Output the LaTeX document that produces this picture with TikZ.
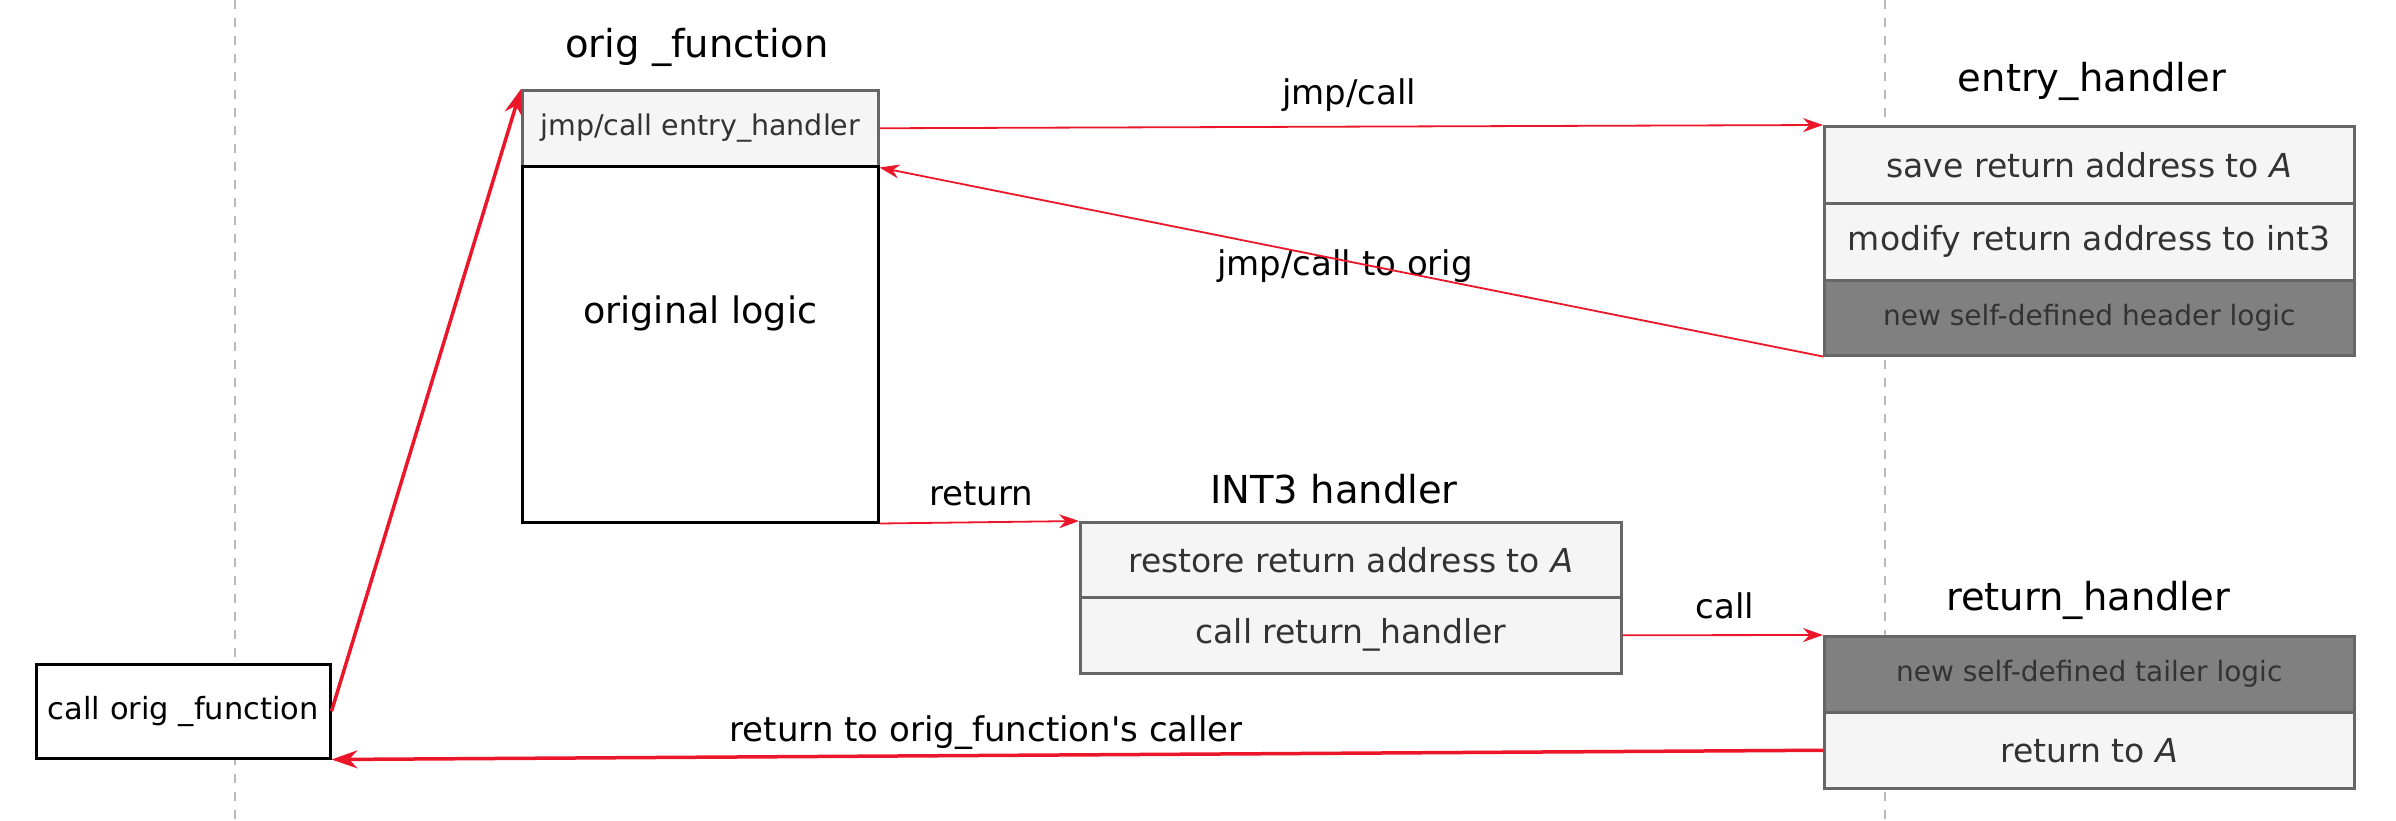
\documentclass[tikz,border=0pt]{standalone}
\usepackage{fontspec}
\setmainfont{DejaVu Sans}
\usepackage{tikz}
\usetikzlibrary{arrows.meta,positioning}
\definecolor{linkred}{RGB}{236,22,42}
\definecolor{cellgray}{RGB}{245,245,245}
\definecolor{darkcell}{RGB}{128,128,128}
\definecolor{cellline}{RGB}{102,102,102}
\definecolor{celltext}{RGB}{51,51,51}

\begin{document}
\begin{tikzpicture}[
x=1pt, y=-1pt,
cell/.style={draw=cellline, line width=2.5pt, fill=cellgray, text=celltext, anchor=north west, inner sep=0pt, align=center, font=\fontsize{33}{38}\selectfont},
darkbox/.style={cell, fill=darkcell, font=\fontsize{28}{32}\selectfont},
plain/.style={draw=black, line width=2.5pt, fill=white, anchor=north west, inner sep=0pt, align=center},
title/.style={font=\fontsize{38.5}{44}\selectfont},
lbl/.style={font=\fontsize{34}{38}\selectfont},
arrow/.style={-{Stealth[length=20pt,width=14pt]}, linkred, line width=1.8pt},
bigarrow/.style={-{Stealth[length=26pt,width=18pt]}, linkred, line width=3.5pt},
guide/.style={draw=gray!55, line width=1.5pt, dash pattern=on 9pt off 9pt}
]
\useasboundingbox (0,0) rectangle (2396,820);
\draw[guide] (235,0) -- (235,820);
\draw[guide] (1885,0) -- (1885,820);

\node[plain, minimum width=294pt, minimum height=94pt, font=\fontsize{30.5}{34}\selectfont] (caller) at (35,663) {call orig \_function};

\node[title] (origt) at (697,47) {orig \_function};
\node[cell, minimum width=356pt, minimum height=76pt, font=\fontsize{28.5}{32}\selectfont] (hdr) at (521,89) {jmp/call entry\_handler};
\node[plain, minimum width=356pt, minimum height=356pt, font=\fontsize{36.5}{40}\selectfont, text height=27pt, text depth=69pt] (logic) at (521,165) {original logic};

\node[title] (entryt) at (2092,81) {entry\_handler};
\node[cell, minimum width=530pt, minimum height=77pt] (save) at (1823,125) {save return address to \textit{A}};
\node[cell, minimum width=530pt, minimum height=77pt] (modify) at (1823,202) {modify return address to int3};
\node[darkbox, minimum width=530pt, minimum height=75pt] (headlogic) at (1823,279) {new self-defined header logic};

\node[title] (int3t) at (1334,489) {INT3 handler};
\node[cell, minimum width=541pt, minimum height=75pt] (restore) at (1079,521) {restore return address to \textit{A}};
\node[cell, minimum width=541pt, minimum height=76pt] (callret) at (1079,596) {call return\_handler};

\node[title] (rett) at (2088,600) {return\_handler};
\node[darkbox, minimum width=530pt, minimum height=76pt] (taillogic) at (1823,635) {new self-defined tailer logic};
\node[cell, minimum width=530pt, minimum height=76pt] (retA) at (1823,711) {return to \textit{A}};

\node[lbl] (ljmp) at (1349,95) {jmp/call};
\node[lbl] (lorig) at (1345,266) {jmp/call to orig};
\node[lbl] (lret) at (981,494) {return};
\node[lbl] (lcall) at (1725,606) {call};
\node[lbl] (lcaller) at (986,733) {return to orig\_function\textquotesingle s caller};

\draw[bigarrow] (caller.east) -- (hdr.north west);
\draw[arrow] (hdr.east) -- (save.north west);
\draw[arrow] (headlogic.south west) -- (hdr.south east);
\draw[arrow] (logic.south east) -- (restore.north west);
\draw[arrow] (callret.east) -- (taillogic.north west);
\draw[bigarrow] (retA.west) -- (caller.south east);
\end{tikzpicture}
\end{document}
